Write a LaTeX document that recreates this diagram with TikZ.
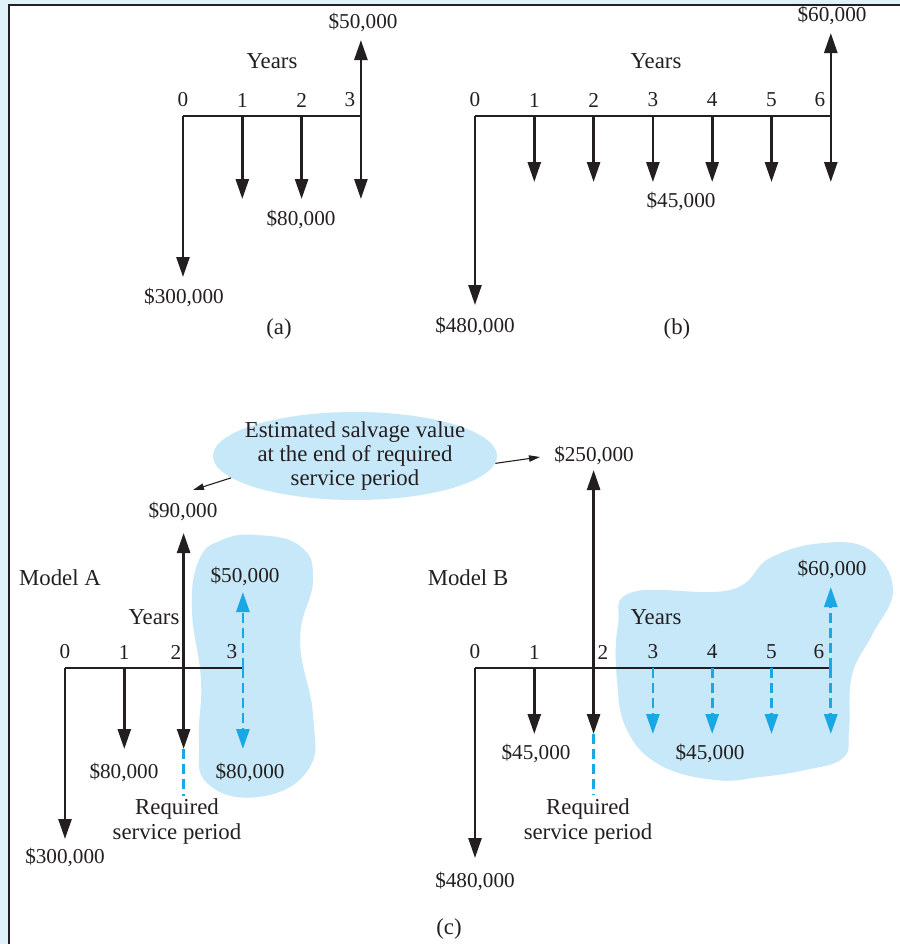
\documentclass[tikz,border=0pt]{standalone}
\usepackage{fontspec}
\setmainfont{Liberation Serif}
\usetikzlibrary{arrows.meta,shapes.geometric}
\definecolor{flowink}{HTML}{231F20}
\definecolor{flowcyan}{HTML}{1AA8E4}
\definecolor{blobtint}{HTML}{C6E8F8}
\definecolor{pagetint}{HTML}{E0F1FA}
\tikzset{
  cash/.style={flowink, line width=1.3pt, -{Triangle[width=6.5pt,length=10pt]}},
  cashboth/.style={flowink, line width=1.3pt, {Triangle[width=6.5pt,length=10pt]}-{Triangle[width=6.5pt,length=10pt]}},
  salvflow/.style={flowcyan, line width=1.4pt, dash pattern=on 5pt off 2.5pt, -{Triangle[width=6.5pt,length=10pt]}},
  reqline/.style={flowcyan, line width=1.4pt, dash pattern=on 5pt off 2.5pt},
  timeline/.style={flowink, line width=0.7pt},
  pointer/.style={flowink, line width=0.55pt, -{Triangle[width=3.2pt,length=5.5pt]}},
  tick/.style={flowink, inner sep=0pt, font=\fontsize{10.6}{12}\selectfont},
  money/.style={flowink, inner sep=0pt, font=\fontsize{10.6}{12}\selectfont},
  word/.style={flowink, inner sep=0pt, align=center, font=\fontsize{11.4}{12.5}\selectfont},
}
\newcommand{\timeaxis}[4]{%
  \foreach \k in {0,...,#4} {\coordinate (#1\k) at ({#2+59.3*\k},#3);}
  \draw[timeline] (#10) -- (#1#4);
}

\begin{document}
\begin{tikzpicture}[x=0.5pt, y=-0.5pt]
  \useasboundingbox (0,0) rectangle (900,944);
  \fill[pagetint] (0,0) rectangle (900,944);
  \fill[white] (9,5) rectangle (900,944);
  \draw[flowink, line width=0.7pt] (9,944) -- (9,5) -- (900,5);

  \timeaxis{a}{183}{116}{3}
  \foreach \k/\dx in {0/0,1/0,2/0,3/-5.5}
    \node[tick] (ta\k) at ([xshift=\dx pt, yshift=8pt]a\k) {\k};
  \path (a0) ++(0,161) coordinate (a0d);
  \draw[cash] (a0) -- (a0d);
  \foreach \k in {1,2,3} {
    \path (a\k) ++(0,83) coordinate (a\k d);
    \draw[cash] (a\k) -- (a\k d);
  }
  \path (a3) ++(0,-76) coordinate (a3u);
  \draw[cash] (a3) -- (a3u);
  \node[word] (yearsa) at (272,61) {Years};
  \node[money] (inca) at (363,22) {\$50,000};
  \node[money] (costa) at (301,219) {\$80,000};
  \node[money] (firsta) at (184,297) {\$300,000};
  \node[word] (capa) at (279,329) {(a)};

  \timeaxis{b}{475}{116}{6}
  \foreach \k/\dx in {0/0,1/0,2/0,3/0,4/0,5/0,6/-5.5}
    \node[tick] (tb\k) at ([xshift=\dx pt, yshift=8pt]b\k) {\k};
  \path (b0) ++(0,189) coordinate (b0d);
  \draw[cash] (b0) -- (b0d);
  \foreach \k in {1,...,6} {
    \path (b\k) ++(0,66) coordinate (b\k d);
    \draw[cash] (b\k) -- (b\k d);
  }
  \path (b6) ++(0,-83) coordinate (b6u);
  \draw[cash] (b6) -- (b6u);
  \node[word] (yearsb) at (656,61) {Years};
  \node[money] (incb) at (832,15) {\$60,000};
  \node[money] (costb) at (681,201) {\$45,000};
  \node[money] (firstb) at (475,326) {\$480,000};
  \node[word] (capb) at (677,329) {(b)};

  \fill[blobtint] plot[smooth cycle, tension=0.75] coordinates {
    (257,535) (300,546) (313,580) (300,640) (313,715) (308,770) (258,797)
    (207,783) (199,740) (201,680) (192,610) (199,560) (222,540)};
  \fill[blobtint] plot[smooth cycle, tension=0.7] coordinates {
    (633,592) (730,590) (770,558) (823,543) (870,550) (893,590) (872,635)
    (852,675) (849,730) (843,758) (805,770) (760,777) (715,780) (660,765)
    (627,730) (617,680) (618,625)};

  \node[ellipse, fill=blobtint, minimum width=142pt, minimum height=44pt, inner sep=0pt] (bubble) at (355,456) {};
  \node[word, font=\fontsize{11.4}{11.8}\selectfont] (bubbletext) at (bubble) {Estimated salvage value\\at the end of required\\service period};
  \coordinate (to90) at (193,490);
  \coordinate (to250) at (540,457);
  \draw[pointer] (bubble.190) -- (to90);
  \draw[pointer] (bubble.-3) -- (to250);

  \timeaxis{ma}{65}{668}{3}
  \foreach \k/\dx in {0/0,1/0,2/-3.8,3/-5.5}
    \node[tick] (tma\k) at ([xshift=\dx pt, yshift=8pt]ma\k) {\k};
  \path (ma0) ++(0,171) coordinate (ma0d);
  \draw[cash] (ma0) -- (ma0d);
  \path (ma1) ++(0,81) coordinate (ma1d);
  \draw[cash] (ma1) -- (ma1d);
  \path (ma2) ++(0,-135) coordinate (ma2u);
  \path (ma2) ++(0,81) coordinate (ma2d);
  \draw[cashboth] (ma2u) -- (ma2d);
  \path (ma2d) ++(0,47) coordinate (ma2r);
  \draw[reqline] (ma2d) -- (ma2r);
  \path (ma3) ++(0,-76) coordinate (ma3u);
  \path (ma3) ++(0,81) coordinate (ma3d);
  \draw[salvflow] (ma3) -- (ma3u);
  \draw[salvflow] (ma3) -- (ma3d);
  \node[word] (modela) at (60,578) {Model A};
  \node[word] (yearsma) at (154,617) {Years};
  \node[money] (salva) at (183,511) {\$90,000};
  \node[money] (incma) at (245,576) {\$50,000};
  \node[money] (costma) at (124,772) {\$80,000};
  \node[money] (costmb) at (250,772) {\$80,000};
  \node[word] (reqa) at (177,822) {Required\\service period};
  \node[money] (firstma) at (65,857) {\$300,000};

  \timeaxis{mb}{475}{668}{6}
  \foreach \k/\dx in {0/0,1/0,2/4.7,3/0,4/0,5/0,6/-6}
    \node[tick] (tmb\k) at ([xshift=\dx pt, yshift=8pt]mb\k) {\k};
  \path (mb0) ++(0,190) coordinate (mb0d);
  \draw[cash] (mb0) -- (mb0d);
  \path (mb1) ++(0,66) coordinate (mb1d);
  \draw[cash] (mb1) -- (mb1d);
  \path (mb2) ++(0,-198) coordinate (mb2u);
  \path (mb2) ++(0,66) coordinate (mb2d);
  \draw[cashboth] (mb2u) -- (mb2d);
  \path (mb2d) ++(0,61) coordinate (mb2r);
  \draw[reqline] (mb2d) -- (mb2r);
  \foreach \k in {3,...,6} {
    \path (mb\k) ++(0,66) coordinate (mb\k d);
    \draw[salvflow] (mb\k) -- (mb\k d);
  }
  \path (mb6) ++(0,-81) coordinate (mb6u);
  \draw[salvflow] (mb6) -- (mb6u);
  \node[word] (modelb) at (468,578) {Model B};
  \node[word] (yearsmb) at (656,617) {Years};
  \node[money] (salvb) at (594,455) {\$250,000};
  \node[money] (incmb) at (832,569) {\$60,000};
  \node[money] (costmc) at (536,753) {\$45,000};
  \node[money] (costmd) at (710,753) {\$45,000};
  \node[word] (reqb) at (588,822) {Required\\service period};
  \node[money] (firstmb) at (475,881) {\$480,000};
  \node[word] (capc) at (449,929) {(c)};
\end{tikzpicture}
\end{document}
